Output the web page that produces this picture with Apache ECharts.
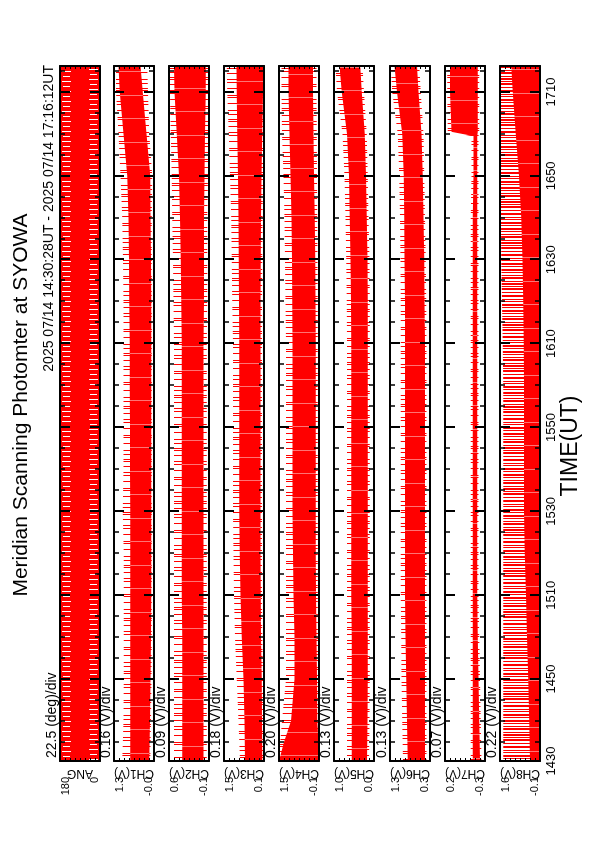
<!DOCTYPE html>
<html><head><meta charset="utf-8">
<script src="https://cdn.jsdelivr.net/npm/echarts@6/dist/echarts.min.js"></script>
<style>
html,body{margin:0;padding:0;background:#fff;overflow:hidden;width:595px;height:842px;}
#wrap{position:absolute;left:0;top:0;width:842px;height:595px;transform-origin:0 0;transform:translate(0px,842px) rotate(-90deg);}
#chart{width:842px;height:595px;}
</style></head><body>
<div id="wrap"><div id="chart"></div></div>
<script>
// ---- data (time in minutes since 00:00 UT) ----
const times = [870.47, 880, 890, 900, 910, 920, 930, 940, 950, 960, 970, 980, 990, 1000, 1010, 1020, 1030, 1036.2];
const timesCh4 = [870.47, 875, 880, 890, 900, 910, 920, 930, 940, 950, 960, 970, 980, 990, 1000, 1010, 1020, 1030, 1036.2];
const timesCh7 = [870.47, 880, 890, 900, 910, 920, 930, 940, 950, 960, 970, 980, 990, 1000, 1010, 1019.5, 1020.5, 1030, 1036.2];
const majorTicks = [870.47, 890, 910, 930, 950, 970, 990, 1010, 1030];
const tickLabels = ['1430', '1450', '1510', '1530', '1550', '1610', '1630', '1650', '1710'];
const minorTicks = [875, 880, 885, 895, 900, 905, 915, 920, 925, 935, 940, 945, 955, 960, 965, 975, 980, 985, 995, 1000, 1005, 1015, 1020, 1025, 1035];

const channelNames = ['ANG', 'CH1(V)', 'CH2(V)', 'CH3(V)', 'CH4(V)', 'CH5(V)', 'CH6(V)', 'CH7(V)', 'CH8(V)'];
const divTexts = ['22.5 (deg)/div', '0.16 (V)/div', '0.09 (V)/div', '0.18 (V)/div', '0.20 (V)/div', '0.13 (V)/div', '0.13 (V)/div', '0.07 (V)/div', '0.22 (V)/div'];
const yMin = [0, -0.02, -0.1, 0.08, -0.1, -0.02, 0.28, -0.32, -0.12];
const yMax = [180, 1.26, 0.62, 1.52, 1.5, 1.02, 1.32, 0.24, 1.64];
const yTopLabels = ['180', '1.3', '0.6', '1.5', '1.5', '1.0', '1.3', '0.2', '1.6'];
const yBottomLabels = ['0', '-0.0', '-0.1', '0.1', '-0.1', '0.0', '0.3', '-0.3', '-0.1'];

// ANG: scanning angle covers the full 0-180 range throughout
const angLo = [0, 0, 0, 0, 0, 0, 0, 0, 0, 0, 0, 0, 0, 0, 0, 0, 0, 0];
const angHi = [180, 180, 180, 180, 180, 180, 180, 180, 180, 180, 180, 180, 180, 180, 180, 180, 180, 180];

// per channel: dense core band (CoreLo/CoreHi) and reach of the noise spikes (OuterLo/OuterHi)
const ch1CoreLo = [.13, .11, .09, .08, .07, .07, .07, .07, .07, .07, .07, .07, .08, .09, .1, .22, .34, .41];
const ch1CoreHi = [.74, .74, .74, .74, .74, .74, .74, .75, .75, .76, .76, .77, .78, .8, .84, .96, 1.08, 1.12];
const ch1OuterLo = [.1, .08, .06, .05, .05, .05, .05, .05, .05, .05, .05, .05, .05, .05, .04, .13, .17, .2];
const ch1OuterHi = [1.0, .96, .95, .95, .95, .95, .98, .96, .96, .96, .96, .96, .97, 1.0, 1.05, 1.12, 1.2, 1.2];

const ch2CoreLo = [.0, .0, .0, .0, .0, .0, .0, .0, .0, .0, .0, -.01, -.01, -.01, -.02, -.03, -.04, -.04];
const ch2CoreHi = [.38, .38, .38, .38, .39, .39, .39, .39, .39, .39, .39, .4, .41, .42, .44, .48, .52, .53];
const ch2OuterLo = [-.06, -.06, -.06, -.06, -.06, -.06, -.06, -.06, -.06, -.06, -.06, -.07, -.07, -.07, -.08, -.08, -.09, -.09];
const ch2OuterHi = [.53, .53, .53, .53, .53, .53, .53, .53, .53, .53, .53, .54, .55, .56, .57, .59, .6, .6];

const ch3CoreLo = [.14, .15, .16, .19, .2, .21, .21, .21, .21, .21, .21, .21, .2, .19, .17, .14, .12, .11];
const ch3CoreHi = [.76, .78, .82, .88, .93, .95, .97, .97, .97, .97, .97, .98, .99, 1.0, 1.02, 1.04, 1.06, 1.07];
const ch3OuterLo = [.11, .11, .12, .14, .15, .15, .15, .15, .15, .15, .15, .15, .14, .13, .12, .1, .09, .08];
const ch3OuterHi = [.94, 1.0, 1.06, 1.12, 1.16, 1.18, 1.2, 1.2, 1.2, 1.2, 1.2, 1.22, 1.24, 1.26, 1.3, 1.35, 1.4, 1.42];

const ch4CoreLo = [-.1, -.08, -.03, -.02, 0, .02, .03, .03, .03, .03, .03, .03, .04, .05, .07, .1, .12, .14, .14];
const ch4CoreHi = [1.5, 1.3, 1.02, .88, .88, .92, .94, .96, .96, .96, .96, .96, .97, .98, 1.0, 1.04, 1.08, 1.12, 1.12];
const ch4OuterLo = [-.1, -.1, -.07, -.07, -.06, -.05, -.05, -.05, -.05, -.05, -.05, -.05, -.05, -.04, -.03, -.02, -.01, 0, 0];
const ch4OuterHi = [1.5, 1.45, 1.38, 1.22, 1.22, 1.22, 1.22, 1.22, 1.22, 1.22, 1.22, 1.22, 1.24, 1.26, 1.28, 1.32, 1.38, 1.4, 1.4];

const ch5CoreLo = [.16, .15, .14, .14, .14, .14, .14, .14, .14, .14, .14, .14, .15, .17, .19, .22, .3, .34];
const ch5CoreHi = [.56, .56, .56, .56, .57, .57, .57, .57, .57, .57, .57, .58, .59, .61, .63, .68, .82, .88];
const ch5OuterLo = [.11, .1, .09, .09, .09, .09, .09, .09, .09, .09, .09, .09, .1, .12, .14, .17, .24, .28];
const ch5OuterHi = [.68, .68, .68, .68, .68, .68, .68, .68, .68, .68, .68, .69, .7, .72, .75, .8, .94, .98];

const ch6CoreLo = [.41, .41, .41, .41, .41, .41, .41, .41, .41, .41, .41, .42, .43, .45, .47, .5, .58, .62];
const ch6CoreHi = [.86, .88, .9, .92, .93, .93, .93, .93, .93, .93, .93, .93, .94, .95, .96, 1.0, 1.14, 1.2];
const ch6OuterLo = [.37, .37, .37, .37, .37, .37, .37, .37, .37, .37, .37, .38, .39, .41, .43, .45, .52, .56];
const ch6OuterHi = [.98, 1.0, 1.02, 1.03, 1.04, 1.04, 1.04, 1.04, 1.04, 1.04, 1.04, 1.04, 1.05, 1.06, 1.08, 1.12, 1.26, 1.3];

const ch7CoreLo = [-.25, -.24, -.23, -.22, -.21, -.21, -.21, -.21, -.21, -.21, -.21, -.21, -.21, -.21, -.21, -.21, -.22, -.22, -.22];
const ch7CoreHi = [-.15, -.15, -.15, -.15, -.15, -.15, -.15, -.15, -.15, -.15, -.15, -.15, -.15, -.15, -.16, -.16, .15, .17, .17];
const ch7OuterLo = [-.27, -.26, -.25, -.24, -.23, -.23, -.23, -.23, -.23, -.23, -.23, -.23, -.23, -.23, -.23, -.23, -.24, -.24, -.24];
const ch7OuterHi = [-.12, -.12, -.12, -.12, -.12, -.12, -.12, -.12, -.12, -.12, -.12, -.12, -.12, -.12, -.13, -.13, .2, .21, .21];

const ch8CoreLo = [-.12, -.12, -.12, -.12, -.12, -.12, -.12, -.12, -.12, -.12, -.12, -.12, -.12, -.12, -.12, -.12, -.12, -.12];
const ch8CoreHi = [.32, .35, .4, .45, .5, .55, .58, .58, .58, .58, .6, .62, .65, .7, .8, .95, 1.08, 1.15];
const ch8OuterLo = [-.12, -.12, -.12, -.12, -.12, -.12, -.12, -.12, -.12, -.12, -.12, -.12, -.12, -.12, -.12, -.12, -.12, -.12];
const ch8OuterHi = [1.5, 1.5, 1.5, 1.5, 1.5, 1.5, 1.5, 1.5, 1.5, 1.5, 1.52, 1.55, 1.58, 1.6, 1.62, 1.64, 1.64, 1.64];

// ---- layout / style ----
const W = 842, H = 595;
const gridLeft = 81, gridWidth = 695, panelH = 40;
const panelTops = [60, 114, 169, 224, 279, 334, 390, 445, 500];
const RED = '#ff0000';
const FONT = 'Liberation Sans, Arial, Helvetica, sans-serif';
const SPARSE_COLS = [0, 5, 9, 16, 22, 24, 31, 37, 40, 46, 51];
const SPARSE_PERIOD = 53;
const DENSE_COLS = [0, 1, 3, 6, 7, 9, 12, 14, 15, 18, 20, 21, 24, 26, 29, 30, 33, 36, 37, 39];
const DENSE_PERIOD = 41;
const CORE_GAPS = [11, 34];
const CORE_PERIOD = 47;

// texture: thin vertical red strokes (noise spikes) on white
function makeStripePattern(cols, period, shift) {
  const c = document.createElement('canvas');
  c.width = period; c.height = 2;
  const ctx = c.getContext('2d');
  ctx.fillStyle = RED;
  cols.forEach(x => ctx.fillRect((x + shift) % period, 0, 1, 2));
  return {image: c, repeat: 'repeat'};
}
// texture: solid red with a few faint white hairlines (gaps between samples)
function makeCorePattern(shift) {
  const c = document.createElement('canvas');
  c.width = CORE_PERIOD; c.height = 2;
  const ctx = c.getContext('2d');
  ctx.fillStyle = RED; ctx.fillRect(0, 0, CORE_PERIOD, 2);
  ctx.fillStyle = 'rgba(255,255,255,0.45)';
  CORE_GAPS.forEach(x => ctx.fillRect((x + shift) % CORE_PERIOD, 0, 1, 2));
  return {image: c, repeat: 'repeat'};
}
// texture for the ANG panel: red with short white gaps near both ends of the scan
function makeAngPattern() {
  const c = document.createElement('canvas');
  c.width = 10; c.height = 110;
  const ctx = c.getContext('2d');
  ctx.fillStyle = RED; ctx.fillRect(0, 0, 10, 110);
  ctx.fillStyle = '#ffffff';
  ctx.fillRect(0, 62, 1, 9);
  ctx.fillRect(5, 63, 1, 7);
  ctx.fillRect(2, 89, 1, 9);
  ctx.fillRect(7, 90, 1, 7);
  return {image: c, repeat: 'repeat'};
}
const ANGFILL = makeAngPattern();

const bands = [
  {t: times, oLo: angLo, oHi: angHi, cLo: angLo, cHi: angHi},
  {t: times, oLo: ch1OuterLo, oHi: ch1OuterHi, cLo: ch1CoreLo, cHi: ch1CoreHi},
  {t: times, oLo: ch2OuterLo, oHi: ch2OuterHi, cLo: ch2CoreLo, cHi: ch2CoreHi},
  {t: times, oLo: ch3OuterLo, oHi: ch3OuterHi, cLo: ch3CoreLo, cHi: ch3CoreHi},
  {t: timesCh4, oLo: ch4OuterLo, oHi: ch4OuterHi, cLo: ch4CoreLo, cHi: ch4CoreHi},
  {t: times, oLo: ch5OuterLo, oHi: ch5OuterHi, cLo: ch5CoreLo, cHi: ch5CoreHi},
  {t: times, oLo: ch6OuterLo, oHi: ch6OuterHi, cLo: ch6CoreLo, cHi: ch6CoreHi},
  {t: timesCh7, oLo: ch7OuterLo, oHi: ch7OuterHi, cLo: ch7CoreLo, cHi: ch7CoreHi},
  {t: times, oLo: ch8OuterLo, oHi: ch8OuterHi, cLo: ch8CoreLo, cHi: ch8CoreHi}
];

const tMin = times[0], tMax = times[times.length - 1];
const grids = [], xAxes = [], yAxes = [], series = [];
const titles = [
  {text: 'Meridian Scanning Photomter at SYOWA', left: 437, top: 11, textAlign: 'center', padding: 0,
   textStyle: {fontSize: 21, fontWeight: 'normal', color: '#000', fontFamily: FONT}},
  {text: '2025 07/14 14:30:28UT - 2025 07/14 17:16:12UT', right: 65, top: 42, padding: 0,
   textStyle: {fontSize: 14, fontWeight: 'normal', color: '#000', fontFamily: FONT}},
  {text: 'TIME(UT)', left: 396, top: 559, textAlign: 'center', padding: 0,
   textStyle: {fontSize: 23, fontWeight: 'normal', color: '#000', fontFamily: FONT}}
];

function bandSeries(i, t, lo, hi, fill, z) {
  return {
    type: 'custom', xAxisIndex: 4 * i, yAxisIndex: 2 * i, silent: true, animation: false, clip: true, z: z,
    data: t.map((x, k) => [x, lo[k], hi[k]]),
    encode: {x: 0, y: [1, 2]},
    renderItem: (params, api) => {
      if (params.dataIndex !== 0) return null;
      const pts = [];
      for (let k = 0; k < t.length; k++) pts.push(api.coord([t[k], lo[k]]));
      for (let k = t.length - 1; k >= 0; k--) pts.push(api.coord([t[k], hi[k]]));
      return {type: 'polygon', shape: {points: pts}, style: {fill: fill, stroke: null, lineWidth: 0}};
    }
  };
}

for (let i = 0; i < 9; i++) {
  grids.push({left: gridLeft, width: gridWidth, top: panelTops[i], height: panelH});
  titles.push({text: divTexts[i], left: 84, top: panelTops[i] - 15, padding: 0,
    textStyle: {fontSize: 14, fontWeight: 'normal', color: '#000', fontFamily: FONT}});
  const isLast = i === 8;
  ['bottom', 'top'].forEach(pos => {
    xAxes.push({
      gridIndex: i, type: 'value', min: tMin, max: tMax, position: pos, z: 5,
      axisLine: {show: true, onZero: false, lineStyle: {color: '#000', width: 2}},
      axisTick: {show: true, inside: true, length: 10, customValues: majorTicks, lineStyle: {color: '#000', width: 2}},
      axisLabel: {show: isLast && pos === 'bottom', customValues: majorTicks, margin: 5,
        alignMinLabel: 'center', alignMaxLabel: 'center', hideOverlap: false,
        formatter: (v) => tickLabels[majorTicks.indexOf(v)] || '',
        fontSize: 13, color: '#000', fontFamily: FONT},
      splitLine: {show: false}
    });
    xAxes.push({
      gridIndex: i, type: 'value', min: tMin, max: tMax, position: pos, z: 5,
      axisLine: {show: false, onZero: false},
      axisTick: {show: true, inside: true, length: 5, customValues: minorTicks, lineStyle: {color: '#000', width: 1.5}},
      axisLabel: {show: false},
      splitLine: {show: false}
    });
  });
  const yt = [];
  for (let k = 0; k <= 8; k++) yt.push(yMin[i] + k * (yMax[i] - yMin[i]) / 8);
  ['left', 'right'].forEach(pos => {
    yAxes.push({
      gridIndex: i, type: 'value', min: yMin[i], max: yMax[i], position: pos, z: 5,
      axisLine: {show: true, onZero: false, lineStyle: {color: '#000', width: 2}},
      axisTick: {show: true, inside: true, length: 3, customValues: yt, lineStyle: {color: '#000', width: 1}},
      axisLabel: {show: pos === 'left', customValues: [yMin[i], yMax[i]], margin: 16,
        formatter: v => (v === yMax[i] ? yTopLabels[i] : yBottomLabels[i]),
        verticalAlignMinLabel: 'bottom', verticalAlignMaxLabel: 'top',
        fontSize: 11, color: '#000', fontFamily: FONT},
      name: pos === 'left' ? channelNames[i] : '', nameLocation: 'middle', nameRotate: 90, nameGap: 6,
      nameMoveOverlap: false,
      nameTextStyle: {fontSize: 12, color: '#000', fontFamily: FONT},
      splitLine: {show: false}
    });
  });
  const b = bands[i];
  if (i === 0) {
    series.push(bandSeries(i, b.t, b.cLo, b.cHi, ANGFILL, 2));
  } else {
    const pat = i === 8 ? makeStripePattern(DENSE_COLS, DENSE_PERIOD, 3 * i)
                        : makeStripePattern(SPARSE_COLS, SPARSE_PERIOD, 11 * i);
    series.push(bandSeries(i, b.t, b.oLo, b.oHi, pat, 2));
    series.push(bandSeries(i, b.t, b.cLo, b.cHi, makeCorePattern(7 * i), 3));
  }
}

const chart = echarts.init(document.getElementById('chart'), null, {renderer: 'canvas', width: W, height: H});
chart.setOption({
  backgroundColor: '#fff',
  animation: false,
  title: titles,
  grid: grids,
  xAxis: xAxes,
  yAxis: yAxes,
  series: series
});
</script></body></html>
